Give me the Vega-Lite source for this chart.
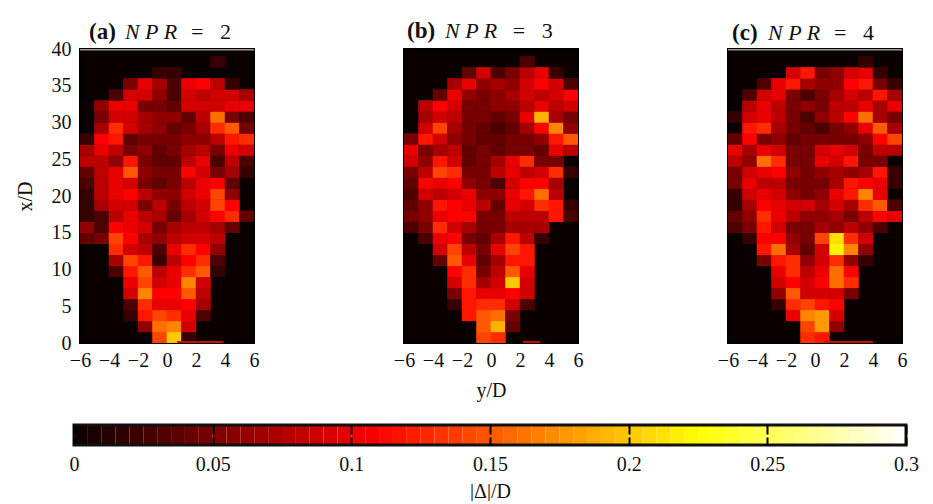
{"$schema":"https://vega.github.io/schema/vega-lite/v6.json","padding":{"left":14,"top":18,"right":0,"bottom":0},"background":"white","bounds":"flush","spacing":376,
"config":{"view":{"fill":"#0a0000","stroke":"#000","strokeWidth":2},"axis":{"domain":false,"ticks":false,"grid":false,"labelFont":"Liberation Serif","labelFontSize":20,"labelColor":"#111","titleFont":"Liberation Serif","titleFontSize":20,"titleFontWeight":"normal","titleColor":"#111","labelFlush":false,"labelBound":false},"text":{"font":"Liberation Serif","fontSize":22,"color":"#111","align":"left","baseline":"alphabetic"}},
"datasets":{
"a":[{"y":-0.5,"x":0.75,"v":0.14},{"y":0.5,"x":0.75,"v":0.2},{"y":1.5,"x":0.75,"v":0.02},
{"y":-1.5,"x":2.25,"v":0.06},{"y":-0.5,"x":2.25,"v":0.16},{"y":0.5,"x":2.25,"v":0.17},{"y":1.5,"x":2.25,"v":0.09},
{"y":-2.5,"x":3.75,"v":0.02},{"y":-1.5,"x":3.75,"v":0.12},{"y":-0.5,"x":3.75,"v":0.14},{"y":0.5,"x":3.75,"v":0.13},{"y":1.5,"x":3.75,"v":0.1},{"y":2.5,"x":3.75,"v":0.03},
{"y":-2.5,"x":5.25,"v":0.03},{"y":-1.5,"x":5.25,"v":0.13},{"y":-0.5,"x":5.25,"v":0.1},{"y":0.5,"x":5.25,"v":0.1},{"y":1.5,"x":5.25,"v":0.11},{"y":2.5,"x":5.25,"v":0.07},
{"y":-2.5,"x":6.75,"v":0.09},{"y":-1.5,"x":6.75,"v":0.17},{"y":-0.5,"x":6.75,"v":0.11},{"y":0.5,"x":6.75,"v":0.11},{"y":1.5,"x":6.75,"v":0.15},{"y":2.5,"x":6.75,"v":0.08},
{"y":-2.5,"x":8.25,"v":0.1},{"y":-1.5,"x":8.25,"v":0.14},{"y":-0.5,"x":8.25,"v":0.09},{"y":0.5,"x":8.25,"v":0.1},{"y":1.5,"x":8.25,"v":0.17},{"y":2.5,"x":8.25,"v":0.09},
{"y":-3.5,"x":9.75,"v":0.03},{"y":-2.5,"x":9.75,"v":0.12},{"y":-1.5,"x":9.75,"v":0.15},{"y":-0.5,"x":9.75,"v":0.08},{"y":0.5,"x":9.75,"v":0.1},{"y":1.5,"x":9.75,"v":0.13},{"y":2.5,"x":9.75,"v":0.15},{"y":3.5,"x":9.75,"v":0.02},
{"y":-3.5,"x":11.25,"v":0.07},{"y":-2.5,"x":11.25,"v":0.14},{"y":-1.5,"x":11.25,"v":0.12},{"y":-0.5,"x":11.25,"v":0.02},{"y":0.5,"x":11.25,"v":0.08},{"y":1.5,"x":11.25,"v":0.11},{"y":2.5,"x":11.25,"v":0.13},{"y":3.5,"x":11.25,"v":0.03},
{"y":-3.5,"x":12.75,"v":0.13},{"y":-2.5,"x":12.75,"v":0.09},{"y":-1.5,"x":12.75,"v":0.08},{"y":-0.5,"x":12.75,"v":0.03},{"y":0.5,"x":12.75,"v":0.1},{"y":1.5,"x":12.75,"v":0.13},{"y":2.5,"x":12.75,"v":0.11},{"y":3.5,"x":12.75,"v":0.06},
{"y":-5.5,"x":14.25,"v":0.04},{"y":-4.5,"x":14.25,"v":0.05},{"y":-3.5,"x":14.25,"v":0.14},{"y":-2.5,"x":14.25,"v":0.11},{"y":-1.5,"x":14.25,"v":0.07},{"y":-0.5,"x":14.25,"v":0.06},{"y":0.5,"x":14.25,"v":0.08},{"y":1.5,"x":14.25,"v":0.09},{"y":2.5,"x":14.25,"v":0.09},{"y":3.5,"x":14.25,"v":0.08},
{"y":-5.5,"x":15.75,"v":0.06},{"y":-4.5,"x":15.75,"v":0.03},{"y":-3.5,"x":15.75,"v":0.11},{"y":-2.5,"x":15.75,"v":0.1},{"y":-1.5,"x":15.75,"v":0.09},{"y":-0.5,"x":15.75,"v":0.05},{"y":0.5,"x":15.75,"v":0.07},{"y":1.5,"x":15.75,"v":0.08},{"y":2.5,"x":15.75,"v":0.08},{"y":3.5,"x":15.75,"v":0.07},{"y":4.5,"x":15.75,"v":0.04},
{"y":-5.5,"x":17.25,"v":0.02},{"y":-4.5,"x":17.25,"v":0.03},{"y":-3.5,"x":17.25,"v":0.08},{"y":-2.5,"x":17.25,"v":0.1},{"y":-1.5,"x":17.25,"v":0.08},{"y":-0.5,"x":17.25,"v":0.07},{"y":0.5,"x":17.25,"v":0.04},{"y":1.5,"x":17.25,"v":0.07},{"y":2.5,"x":17.25,"v":0.09},{"y":3.5,"x":17.25,"v":0.11},{"y":4.5,"x":17.25,"v":0.13},{"y":5.5,"x":17.25,"v":0.04},
{"y":-5.5,"x":18.75,"v":0.02},{"y":-4.5,"x":18.75,"v":0.07},{"y":-3.5,"x":18.75,"v":0.09},{"y":-2.5,"x":18.75,"v":0.09},{"y":-1.5,"x":18.75,"v":0.05},{"y":-0.5,"x":18.75,"v":0.08},{"y":0.5,"x":18.75,"v":0.05},{"y":1.5,"x":18.75,"v":0.08},{"y":2.5,"x":18.75,"v":0.09},{"y":3.5,"x":18.75,"v":0.14},{"y":4.5,"x":18.75,"v":0.11},
{"y":-5.5,"x":20.25,"v":0.02},{"y":-4.5,"x":20.25,"v":0.08},{"y":-3.5,"x":20.25,"v":0.1},{"y":-2.5,"x":20.25,"v":0.11},{"y":-1.5,"x":20.25,"v":0.08},{"y":-0.5,"x":20.25,"v":0.06},{"y":0.5,"x":20.25,"v":0.06},{"y":1.5,"x":20.25,"v":0.09},{"y":2.5,"x":20.25,"v":0.1},{"y":3.5,"x":20.25,"v":0.14},{"y":4.5,"x":20.25,"v":0.06},
{"y":-5.5,"x":21.75,"v":0.03},{"y":-4.5,"x":21.75,"v":0.08},{"y":-3.5,"x":21.75,"v":0.1},{"y":-2.5,"x":21.75,"v":0.09},{"y":-1.5,"x":21.75,"v":0.05},{"y":-0.5,"x":21.75,"v":0.04},{"y":0.5,"x":21.75,"v":0.05},{"y":1.5,"x":21.75,"v":0.08},{"y":2.5,"x":21.75,"v":0.1},{"y":3.5,"x":21.75,"v":0.11},{"y":4.5,"x":21.75,"v":0.04},
{"y":-5.5,"x":23.25,"v":0.04},{"y":-4.5,"x":23.25,"v":0.08},{"y":-3.5,"x":23.25,"v":0.1},{"y":-2.5,"x":23.25,"v":0.15},{"y":-1.5,"x":23.25,"v":0.06},{"y":-0.5,"x":23.25,"v":0.05},{"y":0.5,"x":23.25,"v":0.05},{"y":1.5,"x":23.25,"v":0.11},{"y":2.5,"x":23.25,"v":0.09},{"y":3.5,"x":23.25,"v":0.05},{"y":4.5,"x":23.25,"v":0.07},{"y":5.5,"x":23.25,"v":0.02},
{"y":-5.5,"x":24.75,"v":0.08},{"y":-4.5,"x":24.75,"v":0.08},{"y":-3.5,"x":24.75,"v":0.06},{"y":-2.5,"x":24.75,"v":0.12},{"y":-1.5,"x":24.75,"v":0.05},{"y":-0.5,"x":24.75,"v":0.04},{"y":0.5,"x":24.75,"v":0.04},{"y":1.5,"x":24.75,"v":0.08},{"y":2.5,"x":24.75,"v":0.1},{"y":3.5,"x":24.75,"v":0.03},{"y":4.5,"x":24.75,"v":0.08},{"y":5.5,"x":24.75,"v":0.03},
{"y":-5.5,"x":26.25,"v":0.07},{"y":-4.5,"x":26.25,"v":0.1},{"y":-3.5,"x":26.25,"v":0.08},{"y":-2.5,"x":26.25,"v":0.05},{"y":-1.5,"x":26.25,"v":0.06},{"y":-0.5,"x":26.25,"v":0.04},{"y":0.5,"x":26.25,"v":0.05},{"y":1.5,"x":26.25,"v":0.07},{"y":2.5,"x":26.25,"v":0.08},{"y":3.5,"x":26.25,"v":0.05},{"y":4.5,"x":26.25,"v":0.1},{"y":5.5,"x":26.25,"v":0.09},
{"y":-5.5,"x":27.75,"v":0.02},{"y":-4.5,"x":27.75,"v":0.11},{"y":-3.5,"x":27.75,"v":0.12},{"y":-2.5,"x":27.75,"v":0.04},{"y":-1.5,"x":27.75,"v":0.05},{"y":-0.5,"x":27.75,"v":0.05},{"y":0.5,"x":27.75,"v":0.05},{"y":1.5,"x":27.75,"v":0.06},{"y":2.5,"x":27.75,"v":0.06},{"y":3.5,"x":27.75,"v":0.08},{"y":4.5,"x":27.75,"v":0.12},{"y":5.5,"x":27.75,"v":0.13},
{"y":-4.5,"x":29.25,"v":0.07},{"y":-3.5,"x":29.25,"v":0.13},{"y":-2.5,"x":29.25,"v":0.09},{"y":-1.5,"x":29.25,"v":0.07},{"y":-0.5,"x":29.25,"v":0.06},{"y":0.5,"x":29.25,"v":0.04},{"y":1.5,"x":29.25,"v":0.05},{"y":2.5,"x":29.25,"v":0.07},{"y":3.5,"x":29.25,"v":0.13},{"y":4.5,"x":29.25,"v":0.15},{"y":5.5,"x":29.25,"v":0.05},
{"y":-4.5,"x":30.75,"v":0.05},{"y":-3.5,"x":30.75,"v":0.09},{"y":-2.5,"x":30.75,"v":0.09},{"y":-1.5,"x":30.75,"v":0.07},{"y":-0.5,"x":30.75,"v":0.06},{"y":0.5,"x":30.75,"v":0.06},{"y":1.5,"x":30.75,"v":0.04},{"y":2.5,"x":30.75,"v":0.08},{"y":3.5,"x":30.75,"v":0.16},{"y":4.5,"x":30.75,"v":0.05},{"y":5.5,"x":30.75,"v":0.03},
{"y":-4.5,"x":32.25,"v":0.06},{"y":-3.5,"x":32.25,"v":0.1},{"y":-2.5,"x":32.25,"v":0.1},{"y":-1.5,"x":32.25,"v":0.05},{"y":-0.5,"x":32.25,"v":0.05},{"y":0.5,"x":32.25,"v":0.04},{"y":1.5,"x":32.25,"v":0.09},{"y":2.5,"x":32.25,"v":0.09},{"y":3.5,"x":32.25,"v":0.09},{"y":4.5,"x":32.25,"v":0.1},{"y":5.5,"x":32.25,"v":0.1},
{"y":-3.5,"x":33.75,"v":0.03},{"y":-2.5,"x":33.75,"v":0.09},{"y":-1.5,"x":33.75,"v":0.09},{"y":-0.5,"x":33.75,"v":0.06},{"y":0.5,"x":33.75,"v":0.03},{"y":1.5,"x":33.75,"v":0.09},{"y":2.5,"x":33.75,"v":0.08},{"y":3.5,"x":33.75,"v":0.09},{"y":4.5,"x":33.75,"v":0.09},{"y":5.5,"x":33.75,"v":0.07},
{"y":-2.5,"x":35.25,"v":0.05},{"y":-1.5,"x":35.25,"v":0.1},{"y":-0.5,"x":35.25,"v":0.07},{"y":0.5,"x":35.25,"v":0.03},{"y":1.5,"x":35.25,"v":0.1},{"y":2.5,"x":35.25,"v":0.11},{"y":3.5,"x":35.25,"v":0.08},{"y":4.5,"x":35.25,"v":0.02},
{"y":-0.5,"x":36.75,"v":0.02},{"y":0.5,"x":36.75,"v":0.02},{"y":3.5,"x":38.25,"v":0.02}],
"b":[{"y":-0.5,"x":0.75,"v":0.14},{"y":0.5,"x":0.75,"v":0.13},
{"y":-0.5,"x":2.25,"v":0.15},{"y":0.5,"x":2.25,"v":0.19},{"y":1.5,"x":2.25,"v":0.04},
{"y":-1.5,"x":3.75,"v":0.12},{"y":-0.5,"x":3.75,"v":0.15},{"y":0.5,"x":3.75,"v":0.16},{"y":1.5,"x":3.75,"v":0.05},
{"y":-2.5,"x":5.25,"v":0.02},{"y":-1.5,"x":5.25,"v":0.12},{"y":-0.5,"x":5.25,"v":0.13},{"y":0.5,"x":5.25,"v":0.13},{"y":1.5,"x":5.25,"v":0.09},{"y":2.5,"x":5.25,"v":0.03},
{"y":-2.5,"x":6.75,"v":0.05},{"y":-1.5,"x":6.75,"v":0.12},{"y":-0.5,"x":6.75,"v":0.1},{"y":0.5,"x":6.75,"v":0.1},{"y":1.5,"x":6.75,"v":0.11},{"y":2.5,"x":6.75,"v":0.09},
{"y":-2.5,"x":8.25,"v":0.09},{"y":-1.5,"x":8.25,"v":0.13},{"y":-0.5,"x":8.25,"v":0.07},{"y":0.5,"x":8.25,"v":0.09},{"y":1.5,"x":8.25,"v":0.2},{"y":2.5,"x":8.25,"v":0.09},
{"y":-2.5,"x":9.75,"v":0.11},{"y":-1.5,"x":9.75,"v":0.13},{"y":-0.5,"x":9.75,"v":0.05},{"y":0.5,"x":9.75,"v":0.08},{"y":1.5,"x":9.75,"v":0.15},{"y":2.5,"x":9.75,"v":0.1},
{"y":-3.5,"x":11.25,"v":0.04},{"y":-2.5,"x":11.25,"v":0.15},{"y":-1.5,"x":11.25,"v":0.1},{"y":-0.5,"x":11.25,"v":0.04},{"y":0.5,"x":11.25,"v":0.07},{"y":1.5,"x":11.25,"v":0.12},{"y":2.5,"x":11.25,"v":0.12},
{"y":-3.5,"x":12.75,"v":0.09},{"y":-2.5,"x":12.75,"v":0.14},{"y":-1.5,"x":12.75,"v":0.08},{"y":-0.5,"x":12.75,"v":0.05},{"y":0.5,"x":12.75,"v":0.1},{"y":1.5,"x":12.75,"v":0.14},{"y":2.5,"x":12.75,"v":0.12},
{"y":-4.5,"x":14.25,"v":0.03},{"y":-3.5,"x":14.25,"v":0.1},{"y":-2.5,"x":14.25,"v":0.11},{"y":-1.5,"x":14.25,"v":0.05},{"y":-0.5,"x":14.25,"v":0.04},{"y":0.5,"x":14.25,"v":0.07},{"y":1.5,"x":14.25,"v":0.12},{"y":2.5,"x":14.25,"v":0.08},{"y":3.5,"x":14.25,"v":0.02},
{"y":-5.5,"x":15.75,"v":0.03},{"y":-4.5,"x":15.75,"v":0.05},{"y":-3.5,"x":15.75,"v":0.13},{"y":-2.5,"x":15.75,"v":0.09},{"y":-1.5,"x":15.75,"v":0.07},{"y":-0.5,"x":15.75,"v":0.05},{"y":0.5,"x":15.75,"v":0.05},{"y":1.5,"x":15.75,"v":0.07},{"y":2.5,"x":15.75,"v":0.07},{"y":3.5,"x":15.75,"v":0.07},
{"y":-5.5,"x":17.25,"v":0.05},{"y":-4.5,"x":17.25,"v":0.06},{"y":-3.5,"x":17.25,"v":0.1},{"y":-2.5,"x":17.25,"v":0.11},{"y":-1.5,"x":17.25,"v":0.11},{"y":-0.5,"x":17.25,"v":0.05},{"y":0.5,"x":17.25,"v":0.05},{"y":1.5,"x":17.25,"v":0.08},{"y":2.5,"x":17.25,"v":0.08},{"y":3.5,"x":17.25,"v":0.08},{"y":4.5,"x":17.25,"v":0.12},{"y":5.5,"x":17.25,"v":0.03},
{"y":-5.5,"x":18.75,"v":0.04},{"y":-4.5,"x":18.75,"v":0.06},{"y":-3.5,"x":18.75,"v":0.12},{"y":-2.5,"x":18.75,"v":0.11},{"y":-1.5,"x":18.75,"v":0.1},{"y":-0.5,"x":18.75,"v":0.08},{"y":0.5,"x":18.75,"v":0.04},{"y":1.5,"x":18.75,"v":0.1},{"y":2.5,"x":18.75,"v":0.09},{"y":3.5,"x":18.75,"v":0.13},{"y":4.5,"x":18.75,"v":0.12},{"y":5.5,"x":18.75,"v":0.02},
{"y":-5.5,"x":20.25,"v":0.03},{"y":-4.5,"x":20.25,"v":0.09},{"y":-3.5,"x":20.25,"v":0.08},{"y":-2.5,"x":20.25,"v":0.09},{"y":-1.5,"x":20.25,"v":0.1},{"y":-0.5,"x":20.25,"v":0.06},{"y":0.5,"x":20.25,"v":0.06},{"y":1.5,"x":20.25,"v":0.1},{"y":2.5,"x":20.25,"v":0.12},{"y":3.5,"x":20.25,"v":0.16},{"y":4.5,"x":20.25,"v":0.08},
{"y":-5.5,"x":21.75,"v":0.04},{"y":-4.5,"x":21.75,"v":0.11},{"y":-3.5,"x":21.75,"v":0.1},{"y":-2.5,"x":21.75,"v":0.11},{"y":-1.5,"x":21.75,"v":0.06},{"y":-0.5,"x":21.75,"v":0.05},{"y":0.5,"x":21.75,"v":0.03},{"y":1.5,"x":21.75,"v":0.09},{"y":2.5,"x":21.75,"v":0.11},{"y":3.5,"x":21.75,"v":0.11},{"y":4.5,"x":21.75,"v":0.07},
{"y":-5.5,"x":23.25,"v":0.05},{"y":-4.5,"x":23.25,"v":0.08},{"y":-3.5,"x":23.25,"v":0.14},{"y":-2.5,"x":23.25,"v":0.13},{"y":-1.5,"x":23.25,"v":0.05},{"y":-0.5,"x":23.25,"v":0.05},{"y":0.5,"x":23.25,"v":0.08},{"y":1.5,"x":23.25,"v":0.1},{"y":2.5,"x":23.25,"v":0.08},{"y":3.5,"x":23.25,"v":0.09},{"y":4.5,"x":23.25,"v":0.13},{"y":5.5,"x":23.25,"v":0.02},
{"y":-5.5,"x":24.75,"v":0.09},{"y":-4.5,"x":24.75,"v":0.06},{"y":-3.5,"x":24.75,"v":0.12},{"y":-2.5,"x":24.75,"v":0.09},{"y":-1.5,"x":24.75,"v":0.04},{"y":-0.5,"x":24.75,"v":0.05},{"y":0.5,"x":24.75,"v":0.07},{"y":1.5,"x":24.75,"v":0.1},{"y":2.5,"x":24.75,"v":0.13},{"y":3.5,"x":24.75,"v":0.05},{"y":4.5,"x":24.75,"v":0.05},
{"y":-5.5,"x":26.25,"v":0.1},{"y":-4.5,"x":26.25,"v":0.05},{"y":-3.5,"x":26.25,"v":0.07},{"y":-2.5,"x":26.25,"v":0.08},{"y":-1.5,"x":26.25,"v":0.04},{"y":-0.5,"x":26.25,"v":0.05},{"y":0.5,"x":26.25,"v":0.04},{"y":1.5,"x":26.25,"v":0.05},{"y":2.5,"x":26.25,"v":0.05},{"y":3.5,"x":26.25,"v":0.04},{"y":4.5,"x":26.25,"v":0.1},{"y":5.5,"x":26.25,"v":0.08},
{"y":-5.5,"x":27.75,"v":0.05},{"y":-4.5,"x":27.75,"v":0.12},{"y":-3.5,"x":27.75,"v":0.09},{"y":-2.5,"x":27.75,"v":0.06},{"y":-1.5,"x":27.75,"v":0.05},{"y":-0.5,"x":27.75,"v":0.04},{"y":0.5,"x":27.75,"v":0.04},{"y":1.5,"x":27.75,"v":0.05},{"y":2.5,"x":27.75,"v":0.05},{"y":3.5,"x":27.75,"v":0.06},{"y":4.5,"x":27.75,"v":0.12},{"y":5.5,"x":27.75,"v":0.15},
{"y":-4.5,"x":29.25,"v":0.09},{"y":-3.5,"x":29.25,"v":0.14},{"y":-2.5,"x":29.25,"v":0.07},{"y":-1.5,"x":29.25,"v":0.05},{"y":-0.5,"x":29.25,"v":0.04},{"y":0.5,"x":29.25,"v":0.03},{"y":1.5,"x":29.25,"v":0.04},{"y":2.5,"x":29.25,"v":0.07},{"y":3.5,"x":29.25,"v":0.11},{"y":4.5,"x":29.25,"v":0.17},{"y":5.5,"x":29.25,"v":0.06},
{"y":-4.5,"x":30.75,"v":0.07},{"y":-3.5,"x":30.75,"v":0.09},{"y":-2.5,"x":30.75,"v":0.08},{"y":-1.5,"x":30.75,"v":0.05},{"y":-0.5,"x":30.75,"v":0.05},{"y":0.5,"x":30.75,"v":0.04},{"y":1.5,"x":30.75,"v":0.05},{"y":2.5,"x":30.75,"v":0.1},{"y":3.5,"x":30.75,"v":0.19},{"y":4.5,"x":30.75,"v":0.07},{"y":5.5,"x":30.75,"v":0.05},
{"y":-4.5,"x":32.25,"v":0.08},{"y":-3.5,"x":32.25,"v":0.11},{"y":-2.5,"x":32.25,"v":0.09},{"y":-1.5,"x":32.25,"v":0.05},{"y":-0.5,"x":32.25,"v":0.05},{"y":0.5,"x":32.25,"v":0.06},{"y":1.5,"x":32.25,"v":0.06},{"y":2.5,"x":32.25,"v":0.08},{"y":3.5,"x":32.25,"v":0.1},{"y":4.5,"x":32.25,"v":0.08},{"y":5.5,"x":32.25,"v":0.09},
{"y":-3.5,"x":33.75,"v":0.04},{"y":-2.5,"x":33.75,"v":0.1},{"y":-1.5,"x":33.75,"v":0.06},{"y":-0.5,"x":33.75,"v":0.05},{"y":0.5,"x":33.75,"v":0.06},{"y":1.5,"x":33.75,"v":0.07},{"y":2.5,"x":33.75,"v":0.09},{"y":3.5,"x":33.75,"v":0.08},{"y":4.5,"x":33.75,"v":0.09},{"y":5.5,"x":33.75,"v":0.11},
{"y":-2.5,"x":35.25,"v":0.07},{"y":-1.5,"x":35.25,"v":0.1},{"y":-0.5,"x":35.25,"v":0.06},{"y":0.5,"x":35.25,"v":0.07},{"y":1.5,"x":35.25,"v":0.06},{"y":2.5,"x":35.25,"v":0.09},{"y":3.5,"x":35.25,"v":0.11},{"y":4.5,"x":35.25,"v":0.09},{"y":5.5,"x":35.25,"v":0.03},
{"y":-1.5,"x":36.75,"v":0.04},{"y":-0.5,"x":36.75,"v":0.09},{"y":0.5,"x":36.75,"v":0.03},{"y":1.5,"x":36.75,"v":0.05},{"y":2.5,"x":36.75,"v":0.08},{"y":3.5,"x":36.75,"v":0.1},{"y":4.5,"x":36.75,"v":0.02},{"y":2.5,"x":38.25,"v":0.03}],
"c":[{"y":-0.5,"x":0.75,"v":0.13},{"y":0.5,"x":0.75,"v":0.12},
{"y":-0.5,"x":2.25,"v":0.14},{"y":0.5,"x":2.25,"v":0.18},{"y":1.5,"x":2.25,"v":0.06},
{"y":-1.5,"x":3.75,"v":0.1},{"y":-0.5,"x":3.75,"v":0.17},{"y":0.5,"x":3.75,"v":0.18},{"y":1.5,"x":3.75,"v":0.09},
{"y":-2.5,"x":5.25,"v":0.02},{"y":-1.5,"x":5.25,"v":0.13},{"y":-0.5,"x":5.25,"v":0.14},{"y":0.5,"x":5.25,"v":0.12},{"y":1.5,"x":5.25,"v":0.11},
{"y":-2.5,"x":6.75,"v":0.06},{"y":-1.5,"x":6.75,"v":0.15},{"y":-0.5,"x":6.75,"v":0.09},{"y":0.5,"x":6.75,"v":0.09},{"y":1.5,"x":6.75,"v":0.09},{"y":2.5,"x":6.75,"v":0.05},
{"y":-2.5,"x":8.25,"v":0.09},{"y":-1.5,"x":8.25,"v":0.11},{"y":-0.5,"x":8.25,"v":0.09},{"y":0.5,"x":8.25,"v":0.11},{"y":1.5,"x":8.25,"v":0.16},{"y":2.5,"x":8.25,"v":0.13},
{"y":-2.5,"x":9.75,"v":0.1},{"y":-1.5,"x":9.75,"v":0.13},{"y":-0.5,"x":9.75,"v":0.08},{"y":0.5,"x":9.75,"v":0.1},{"y":1.5,"x":9.75,"v":0.16},{"y":2.5,"x":9.75,"v":0.11},
{"y":-3.5,"x":11.25,"v":0.05},{"y":-2.5,"x":11.25,"v":0.12},{"y":-1.5,"x":11.25,"v":0.13},{"y":-0.5,"x":11.25,"v":0.06},{"y":0.5,"x":11.25,"v":0.09},{"y":1.5,"x":11.25,"v":0.13},{"y":2.5,"x":11.25,"v":0.06},{"y":3.5,"x":11.25,"v":0.02},
{"y":-3.5,"x":12.75,"v":0.12},{"y":-2.5,"x":12.75,"v":0.16},{"y":-1.5,"x":12.75,"v":0.07},{"y":-0.5,"x":12.75,"v":0.04},{"y":0.5,"x":12.75,"v":0.09},{"y":1.5,"x":12.75,"v":0.22},{"y":2.5,"x":12.75,"v":0.17},{"y":3.5,"x":12.75,"v":0.06},
{"y":-4.5,"x":14.25,"v":0.02},{"y":-3.5,"x":14.25,"v":0.11},{"y":-2.5,"x":14.25,"v":0.11},{"y":-1.5,"x":14.25,"v":0.06},{"y":-0.5,"x":14.25,"v":0.05},{"y":0.5,"x":14.25,"v":0.14},{"y":1.5,"x":14.25,"v":0.21},{"y":2.5,"x":14.25,"v":0.13},{"y":3.5,"x":14.25,"v":0.09},
{"y":-5.5,"x":15.75,"v":0.03},{"y":-4.5,"x":15.75,"v":0.05},{"y":-3.5,"x":15.75,"v":0.12},{"y":-2.5,"x":15.75,"v":0.09},{"y":-1.5,"x":15.75,"v":0.05},{"y":-0.5,"x":15.75,"v":0.05},{"y":0.5,"x":15.75,"v":0.07},{"y":1.5,"x":15.75,"v":0.06},{"y":2.5,"x":15.75,"v":0.08},{"y":3.5,"x":15.75,"v":0.06},{"y":4.5,"x":15.75,"v":0.03},
{"y":-5.5,"x":17.25,"v":0.04},{"y":-4.5,"x":17.25,"v":0.06},{"y":-3.5,"x":17.25,"v":0.13},{"y":-2.5,"x":17.25,"v":0.1},{"y":-1.5,"x":17.25,"v":0.08},{"y":-0.5,"x":17.25,"v":0.06},{"y":0.5,"x":17.25,"v":0.06},{"y":1.5,"x":17.25,"v":0.07},{"y":2.5,"x":17.25,"v":0.05},{"y":3.5,"x":17.25,"v":0.08},{"y":4.5,"x":17.25,"v":0.11},{"y":5.5,"x":17.25,"v":0.1},
{"y":-5.5,"x":18.75,"v":0.02},{"y":-4.5,"x":18.75,"v":0.07},{"y":-3.5,"x":18.75,"v":0.11},{"y":-2.5,"x":18.75,"v":0.1},{"y":-1.5,"x":18.75,"v":0.09},{"y":-0.5,"x":18.75,"v":0.09},{"y":0.5,"x":18.75,"v":0.07},{"y":1.5,"x":18.75,"v":0.09},{"y":2.5,"x":18.75,"v":0.07},{"y":3.5,"x":18.75,"v":0.13},{"y":4.5,"x":18.75,"v":0.15},{"y":5.5,"x":18.75,"v":0.03},
{"y":-5.5,"x":20.25,"v":0.02},{"y":-4.5,"x":20.25,"v":0.09},{"y":-3.5,"x":20.25,"v":0.1},{"y":-2.5,"x":20.25,"v":0.09},{"y":-1.5,"x":20.25,"v":0.06},{"y":-0.5,"x":20.25,"v":0.05},{"y":0.5,"x":20.25,"v":0.06},{"y":1.5,"x":20.25,"v":0.1},{"y":2.5,"x":20.25,"v":0.12},{"y":3.5,"x":20.25,"v":0.17},{"y":4.5,"x":20.25,"v":0.1},
{"y":-5.5,"x":21.75,"v":0.05},{"y":-4.5,"x":21.75,"v":0.1},{"y":-3.5,"x":21.75,"v":0.08},{"y":-2.5,"x":21.75,"v":0.08},{"y":-1.5,"x":21.75,"v":0.05},{"y":-0.5,"x":21.75,"v":0.05},{"y":0.5,"x":21.75,"v":0.05},{"y":1.5,"x":21.75,"v":0.07},{"y":2.5,"x":21.75,"v":0.12},{"y":3.5,"x":21.75,"v":0.11},{"y":4.5,"x":21.75,"v":0.1},{"y":5.5,"x":21.75,"v":0.02},
{"y":-5.5,"x":23.25,"v":0.05},{"y":-4.5,"x":23.25,"v":0.09},{"y":-3.5,"x":23.25,"v":0.1},{"y":-2.5,"x":23.25,"v":0.11},{"y":-1.5,"x":23.25,"v":0.06},{"y":-0.5,"x":23.25,"v":0.05},{"y":0.5,"x":23.25,"v":0.06},{"y":1.5,"x":23.25,"v":0.07},{"y":2.5,"x":23.25,"v":0.06},{"y":3.5,"x":23.25,"v":0.07},{"y":4.5,"x":23.25,"v":0.12},{"y":5.5,"x":23.25,"v":0.02},
{"y":-5.5,"x":24.75,"v":0.08},{"y":-4.5,"x":24.75,"v":0.06},{"y":-3.5,"x":24.75,"v":0.16},{"y":-2.5,"x":24.75,"v":0.13},{"y":-1.5,"x":24.75,"v":0.05},{"y":-0.5,"x":24.75,"v":0.05},{"y":0.5,"x":24.75,"v":0.1},{"y":1.5,"x":24.75,"v":0.09},{"y":2.5,"x":24.75,"v":0.12},{"y":3.5,"x":24.75,"v":0.05},{"y":4.5,"x":24.75,"v":0.05},
{"y":-5.5,"x":26.25,"v":0.1},{"y":-4.5,"x":26.25,"v":0.07},{"y":-3.5,"x":26.25,"v":0.1},{"y":-2.5,"x":26.25,"v":0.09},{"y":-1.5,"x":26.25,"v":0.05},{"y":-0.5,"x":26.25,"v":0.05},{"y":0.5,"x":26.25,"v":0.09},{"y":1.5,"x":26.25,"v":0.1},{"y":2.5,"x":26.25,"v":0.09},{"y":3.5,"x":26.25,"v":0.05},{"y":4.5,"x":26.25,"v":0.08},{"y":5.5,"x":26.25,"v":0.08},
{"y":-5.5,"x":27.75,"v":0.04},{"y":-4.5,"x":27.75,"v":0.11},{"y":-3.5,"x":27.75,"v":0.05},{"y":-2.5,"x":27.75,"v":0.06},{"y":-1.5,"x":27.75,"v":0.04},{"y":-0.5,"x":27.75,"v":0.05},{"y":0.5,"x":27.75,"v":0.05},{"y":1.5,"x":27.75,"v":0.05},{"y":2.5,"x":27.75,"v":0.05},{"y":3.5,"x":27.75,"v":0.06},{"y":4.5,"x":27.75,"v":0.11},{"y":5.5,"x":27.75,"v":0.14},
{"y":-4.5,"x":29.25,"v":0.12},{"y":-3.5,"x":29.25,"v":0.13},{"y":-2.5,"x":29.25,"v":0.07},{"y":-1.5,"x":29.25,"v":0.05},{"y":-0.5,"x":29.25,"v":0.04},{"y":0.5,"x":29.25,"v":0.03},{"y":1.5,"x":29.25,"v":0.05},{"y":2.5,"x":29.25,"v":0.06},{"y":3.5,"x":29.25,"v":0.1},{"y":4.5,"x":29.25,"v":0.15},{"y":5.5,"x":29.25,"v":0.07},
{"y":-5.5,"x":30.75,"v":0.02},{"y":-4.5,"x":30.75,"v":0.09},{"y":-3.5,"x":30.75,"v":0.1},{"y":-2.5,"x":30.75,"v":0.08},{"y":-1.5,"x":30.75,"v":0.05},{"y":-0.5,"x":30.75,"v":0.03},{"y":0.5,"x":30.75,"v":0.06},{"y":1.5,"x":30.75,"v":0.08},{"y":2.5,"x":30.75,"v":0.11},{"y":3.5,"x":30.75,"v":0.16},{"y":4.5,"x":30.75,"v":0.07},{"y":5.5,"x":30.75,"v":0.05},
{"y":-4.5,"x":32.25,"v":0.08},{"y":-3.5,"x":32.25,"v":0.1},{"y":-2.5,"x":32.25,"v":0.08},{"y":-1.5,"x":32.25,"v":0.05},{"y":-0.5,"x":32.25,"v":0.06},{"y":0.5,"x":32.25,"v":0.05},{"y":1.5,"x":32.25,"v":0.08},{"y":2.5,"x":32.25,"v":0.08},{"y":3.5,"x":32.25,"v":0.1},{"y":4.5,"x":32.25,"v":0.07},{"y":5.5,"x":32.25,"v":0.1},
{"y":-4.5,"x":33.75,"v":0.03},{"y":-3.5,"x":33.75,"v":0.09},{"y":-2.5,"x":33.75,"v":0.1},{"y":-1.5,"x":33.75,"v":0.05},{"y":-0.5,"x":33.75,"v":0.03},{"y":0.5,"x":33.75,"v":0.05},{"y":1.5,"x":33.75,"v":0.07},{"y":2.5,"x":33.75,"v":0.09},{"y":3.5,"x":33.75,"v":0.08},{"y":4.5,"x":33.75,"v":0.12},{"y":5.5,"x":33.75,"v":0.07},
{"y":-3.5,"x":35.25,"v":0.03},{"y":-2.5,"x":35.25,"v":0.1},{"y":-1.5,"x":35.25,"v":0.12},{"y":-0.5,"x":35.25,"v":0.07},{"y":0.5,"x":35.25,"v":0.06},{"y":1.5,"x":35.25,"v":0.06},{"y":2.5,"x":35.25,"v":0.11},{"y":3.5,"x":35.25,"v":0.12},{"y":4.5,"x":35.25,"v":0.05},{"y":5.5,"x":35.25,"v":0.02},
{"y":-1.5,"x":36.75,"v":0.09},{"y":-0.5,"x":36.75,"v":0.12},{"y":0.5,"x":36.75,"v":0.05},{"y":1.5,"x":36.75,"v":0.06},{"y":2.5,"x":36.75,"v":0.09},{"y":3.5,"x":36.75,"v":0.1},{"y":4.5,"x":36.75,"v":0.02},{"y":3.5,"x":38.25,"v":0.02}],
"bar":[{"a":0,"b":0.005,"v":0.0025},{"a":0.005,"b":0.01,"v":0.0075},{"a":0.01,"b":0.015,"v":0.0125},{"a":0.015,"b":0.02,"v":0.0175},{"a":0.02,"b":0.025,"v":0.0225},{"a":0.025,"b":0.03,"v":0.0275},{"a":0.03,"b":0.035,"v":0.0325},{"a":0.035,"b":0.04,"v":0.0375},{"a":0.04,"b":0.045,"v":0.0425},{"a":0.045,"b":0.05,"v":0.0475},{"a":0.05,"b":0.055,"v":0.0525},{"a":0.055,"b":0.06,"v":0.0575},{"a":0.06,"b":0.065,"v":0.0625},{"a":0.065,"b":0.07,"v":0.0675},{"a":0.07,"b":0.075,"v":0.0725},{"a":0.075,"b":0.08,"v":0.0775},{"a":0.08,"b":0.085,"v":0.0825},{"a":0.085,"b":0.09,"v":0.0875},{"a":0.09,"b":0.095,"v":0.0925},{"a":0.095,"b":0.1,"v":0.0975},{"a":0.1,"b":0.105,"v":0.1025},{"a":0.105,"b":0.11,"v":0.1075},{"a":0.11,"b":0.115,"v":0.1125},{"a":0.115,"b":0.12,"v":0.1175},{"a":0.12,"b":0.125,"v":0.1225},{"a":0.125,"b":0.13,"v":0.1275},{"a":0.13,"b":0.135,"v":0.1325},{"a":0.135,"b":0.14,"v":0.1375},{"a":0.14,"b":0.145,"v":0.1425},{"a":0.145,"b":0.15,"v":0.1475},{"a":0.15,"b":0.155,"v":0.1525},{"a":0.155,"b":0.16,"v":0.1575},{"a":0.16,"b":0.165,"v":0.1625},{"a":0.165,"b":0.17,"v":0.1675},{"a":0.17,"b":0.175,"v":0.1725},{"a":0.175,"b":0.18,"v":0.1775},{"a":0.18,"b":0.185,"v":0.1825},{"a":0.185,"b":0.19,"v":0.1875},{"a":0.19,"b":0.195,"v":0.1925},{"a":0.195,"b":0.2,"v":0.1975},{"a":0.2,"b":0.205,"v":0.2025},{"a":0.205,"b":0.21,"v":0.2075},{"a":0.21,"b":0.215,"v":0.2125},{"a":0.215,"b":0.22,"v":0.2175},{"a":0.22,"b":0.225,"v":0.2225},{"a":0.225,"b":0.23,"v":0.2275},{"a":0.23,"b":0.235,"v":0.2325},{"a":0.235,"b":0.24,"v":0.2375},{"a":0.24,"b":0.245,"v":0.2425},{"a":0.245,"b":0.25,"v":0.2475},{"a":0.25,"b":0.255,"v":0.2525},{"a":0.255,"b":0.26,"v":0.2575},{"a":0.26,"b":0.265,"v":0.2625},{"a":0.265,"b":0.27,"v":0.2675},{"a":0.27,"b":0.275,"v":0.2725},{"a":0.275,"b":0.28,"v":0.2775},{"a":0.28,"b":0.285,"v":0.2825},{"a":0.285,"b":0.29,"v":0.2875},{"a":0.29,"b":0.295,"v":0.2925},{"a":0.295,"b":0.3,"v":0.2975}]
},
"vconcat":[
{"hconcat":[
{"width":174,"height":294,"encoding":{"x":{"field":"y","type":"quantitative","scale":{"domain":[-6,6],"nice":false},"axis":{"values":[-6,-4,-2,0,2,4,6],"title":null,"labelPadding":7,"labelOverlap":false}},"y":{"field":"x","type":"quantitative","scale":{"domain":[0,40],"nice":false},"axis":{"values":[0,5,10,15,20,25,30,35,40],"title":"x/D","labelPadding":9,"titlePadding":16,"labelOverlap":false}}},"layer":[
{"data":{"name":"a"},"mark":{"type":"rect","width":15,"height":11.5,"clip":true},"encoding":{"fill":{"field":"v","type":"quantitative","legend":null,"scale":{"type":"linear","interpolate":"rgb","domain":[0,0.11,0.225,0.3],"range":["#0a0000","#ff0000","#ffff00","#ffffff"]}}}},
{"data":{"values":[{"y":0.7,"y2":3.9,"x":0.15}]},"mark":{"type":"rule","color":"#c01000","strokeWidth":2},"encoding":{"x2":{"field":"y2"}}},
{"data":{"values":[{"y":-6,"y2":6,"x":39.9}]},"mark":{"type":"rule","color":"#999","strokeWidth":1.5},"encoding":{"x2":{"field":"y2"}}},
{"data":{"values":[{"y":-5.38,"x":41.3,"t":"(a)"}]},"mark":{"type":"text","fontWeight":"bold","fontSize":23},"encoding":{"text":{"field":"t"}}},
{"data":{"values":[{"y":-2.9,"x":41.3,"t":"N P R"}]},"mark":{"type":"text","fontStyle":"italic"},"encoding":{"text":{"field":"t"}}},
{"data":{"values":[{"y":1.66,"x":41.3,"t":"=\u00a0\u00a0\u00a02"}]},"mark":{"type":"text"},"encoding":{"text":{"field":"t"}}}
]},
{"width":174,"height":294,"encoding":{"x":{"field":"y","type":"quantitative","scale":{"domain":[-6,6],"nice":false},"axis":{"values":[-6,-4,-2,0,2,4,6],"title":"y/D","labelPadding":7,"titlePadding":10,"labelOverlap":false}},"y":{"field":"x","type":"quantitative","scale":{"domain":[0,40],"nice":false},"axis":null}},"layer":[
{"data":{"name":"b"},"mark":{"type":"rect","width":15,"height":11.5,"clip":true},"encoding":{"fill":{"field":"v","type":"quantitative","legend":null,"scale":{"type":"linear","interpolate":"rgb","domain":[0,0.11,0.225,0.3],"range":["#0a0000","#ff0000","#ffff00","#ffffff"]}}}},
{"data":{"values":[{"y":2.2,"y2":3.4,"x":0.15}]},"mark":{"type":"rule","color":"#c01000","strokeWidth":2},"encoding":{"x2":{"field":"y2"}}},
{"data":{"values":[{"y":-5.79,"x":41.55,"t":"(b)"}]},"mark":{"type":"text","fontWeight":"bold","fontSize":23},"encoding":{"text":{"field":"t"}}},
{"data":{"values":[{"y":-3.17,"x":41.55,"t":"N P R"}]},"mark":{"type":"text","fontStyle":"italic"},"encoding":{"text":{"field":"t"}}},
{"data":{"values":[{"y":1.5,"x":41.55,"t":"=\u00a0\u00a0\u00a03"}]},"mark":{"type":"text"},"encoding":{"text":{"field":"t"}}}
]},
{"width":174,"height":294,"encoding":{"x":{"field":"y","type":"quantitative","scale":{"domain":[-6,6],"nice":false},"axis":{"values":[-6,-4,-2,0,2,4,6],"title":null,"labelPadding":7,"labelOverlap":false}},"y":{"field":"x","type":"quantitative","scale":{"domain":[0,40],"nice":false},"axis":null}},"layer":[
{"data":{"name":"c"},"mark":{"type":"rect","width":15,"height":11.5,"clip":true},"encoding":{"fill":{"field":"v","type":"quantitative","legend":null,"scale":{"type":"linear","interpolate":"rgb","domain":[0,0.11,0.225,0.3],"range":["#0a0000","#ff0000","#ffff00","#ffffff"]}}}},
{"data":{"values":[{"y":0.6,"y2":4,"x":0.15}]},"mark":{"type":"rule","color":"#c01000","strokeWidth":2},"encoding":{"x2":{"field":"y2"}}},
{"data":{"values":[{"y":-6,"y2":6,"x":39.9}]},"mark":{"type":"rule","color":"#999","strokeWidth":1.5},"encoding":{"x2":{"field":"y2"}}},
{"data":{"values":[{"y":-5.72,"x":41.2,"t":"(c)"}]},"mark":{"type":"text","fontWeight":"bold","fontSize":23},"encoding":{"text":{"field":"t"}}},
{"data":{"values":[{"y":-3.24,"x":41.2,"t":"N P R"}]},"mark":{"type":"text","fontStyle":"italic"},"encoding":{"text":{"field":"t"}}},
{"data":{"values":[{"y":1.31,"x":41.2,"t":"=\u00a0\u00a0\u00a04"}]},"mark":{"type":"text"},"encoding":{"text":{"field":"t"}}}
]}
],"spacing":150,"bounds":"flush"},
{"width":826,"height":20,"view":{"stroke":null,"fill":null},"layer":[
{"data":{"name":"bar"},"mark":{"type":"rect"},"encoding":{"x":{"field":"a","type":"quantitative","scale":{"domain":[0,0.3],"range":[-6,826]},"axis":{"values":[0,0.05,0.1,0.15,0.2,0.25,0.3],"format":"~g","title":"|Δ|/D","labelPadding":9,"titlePadding":7,"labelOverlap":false,"grid":true,"gridColor":"#000","gridWidth":2,"gridDash":[8,3,9],"zindex":1}},"x2":{"field":"b"},"fill":{"field":"v","type":"quantitative","legend":null,"scale":{"type":"linear","interpolate":"rgb","domain":[0,0.11,0.225,0.3],"range":["#0a0000","#ff0000","#ffff00","#ffffff"]}}}},
{"data":{"values":[{"a":0,"b":0.3}]},"mark":{"type":"rect","fill":null,"stroke":"#111","strokeWidth":3},"encoding":{"x":{"field":"a","type":"quantitative"},"x2":{"field":"b"}}}
]}
]}
